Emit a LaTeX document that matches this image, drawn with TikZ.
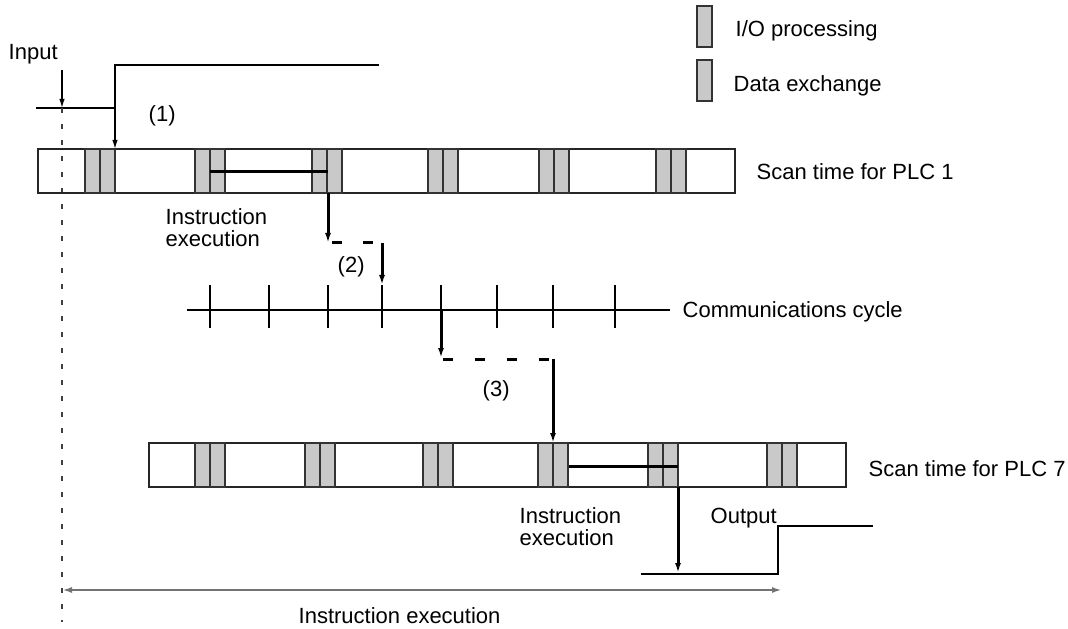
\documentclass[tikz,border=0pt]{standalone}
\usepackage{fontspec}
\setmainfont{Liberation Sans}
\usetikzlibrary{arrows.meta}

\tikzset{
  iobox/.style={draw=black!80,fill=black!21,line width=1.4bp},
  scanbar/.style={draw=black!85,line width=1.5bp,inner sep=0pt,outer sep=0pt,
    anchor=north west,minimum width=697bp,minimum height=44bp},
  exec/.style={line width=3bp},
  flow/.style={-{Latex[length=10bp,width=6bp]}},
  sig/.style={-{Latex[length=9bp,width=5.5bp]}},
  lbl/.style={font=\fontsize{22bp}{22bp}\selectfont,inner sep=0pt,anchor=base west,align=left},
}

\begin{document}
\begin{tikzpicture}[x=1bp,y=-1bp,line width=1.4bp]
\useasboundingbox (0,0) rectangle (1068,629);

% legend
\draw[iobox] (697,6) rectangle (712,47);
\node[lbl] (legio) at (735,37) {I/O processing};
\draw[iobox] (697,60) rectangle (712,101);
\node[lbl] (legdx) at (733,92) {Data exchange};

% input signal
\node[lbl] (input) at (8,60) {Input};
\coordinate (inlow) at (36,108);
\coordinate (instep) at (115,108);
\coordinate (inhigh) at (379,65);
\coordinate (inmark) at (62,70);
\coordinate (t0) at (62,108);
\draw (inlow) -- (instep) |- (inhigh);
\draw[sig] (inmark) -- (t0);
\draw[black!75,line width=1.6bp,dash pattern=on 5bp off 11bp] (t0) -- (62,622);
\node[lbl] (n1) at (148,122) {(1)};

% scan time for PLC 1
\node[scanbar] (plc1) at (38,149) {};
\foreach \a in {85,195,312,428,539,656}
  \draw[iobox] (\a,149) rectangle ++(15,44) (\a+15,149) rectangle ++(15,44);
\draw[sig] (instep) -- (instep|-plc1.north);
\node[lbl] (scan1) at (756,180) {Scan time for PLC 1};
\draw[exec] (210,172) -- (328,172);
\node[lbl] (ie1) at (165,247) {Instruction\\execution};

% to the communications cycle
\coordinate (s1) at (328,193);
\coordinate (s2) at (328,243);
\coordinate (s3) at (382,243);
\coordinate (s4) at (382,285);
\draw[exec,flow] (s1) -- (s2);
\draw[exec,dash pattern=on 10bp off 21bp] (332,243) -- (373,243);
\draw[exec,flow] (s3) -- (s4);
\node[lbl] (n2) at (337,273) {(2)};

% communications cycle
\coordinate (cstart) at (187,310);
\coordinate (cend) at (670,310);
\draw (cstart) -- (cend);
\foreach \t in {210,269,328,382,441,497,553,615}
  \draw (\t,285) -- (\t,328);
\node[lbl] (comm) at (682,318) {Communications cycle};

% to PLC 7
\coordinate (c1) at (441,310);
\coordinate (c2) at (441,358);
\coordinate (c3) at (553,359);
\coordinate (c4) at (553,443);
\draw[exec,flow] (c1) -- (c2);
\draw[exec,dash pattern=on 10bp off 22bp] (443,359) -- (550,359);
\draw[exec,flow] (c3) -- (c4);
\node[lbl] (n3) at (482,396) {(3)};

% scan time for PLC 7
\node[scanbar] (plc7) at (149,443) {};
\foreach \a in {195,305,423,538,648,767}
  \draw[iobox] (\a,443) rectangle ++(15,44) (\a+15,443) rectangle ++(15,44);
\node[lbl] (scan7) at (868,476) {Scan time for PLC 7};
\draw[exec] (569,466) -- (678,466);
\node[lbl] (ie7) at (519,545) {Instruction\\execution};

% output signal
\coordinate (o1) at (678,487);
\coordinate (o2) at (678,573);
\coordinate (outlow) at (641,574);
\coordinate (outstep) at (778,574);
\coordinate (outhigh) at (873,526);
\draw[exec,flow] (o1) -- (o2);
\draw (outlow) -- (outstep) |- (outhigh);
\node[lbl] (out) at (710,523) {Output};

% total time
\coordinate (tend) at (782,590);
\draw[black!55,line width=2bp,{Latex[length=10bp,width=6bp]}-{Latex[length=10bp,width=6bp]}] (t0|-tend) -- (tend);
\node[lbl] (total) at (298,623) {Instruction execution};
\end{tikzpicture}
\end{document}
